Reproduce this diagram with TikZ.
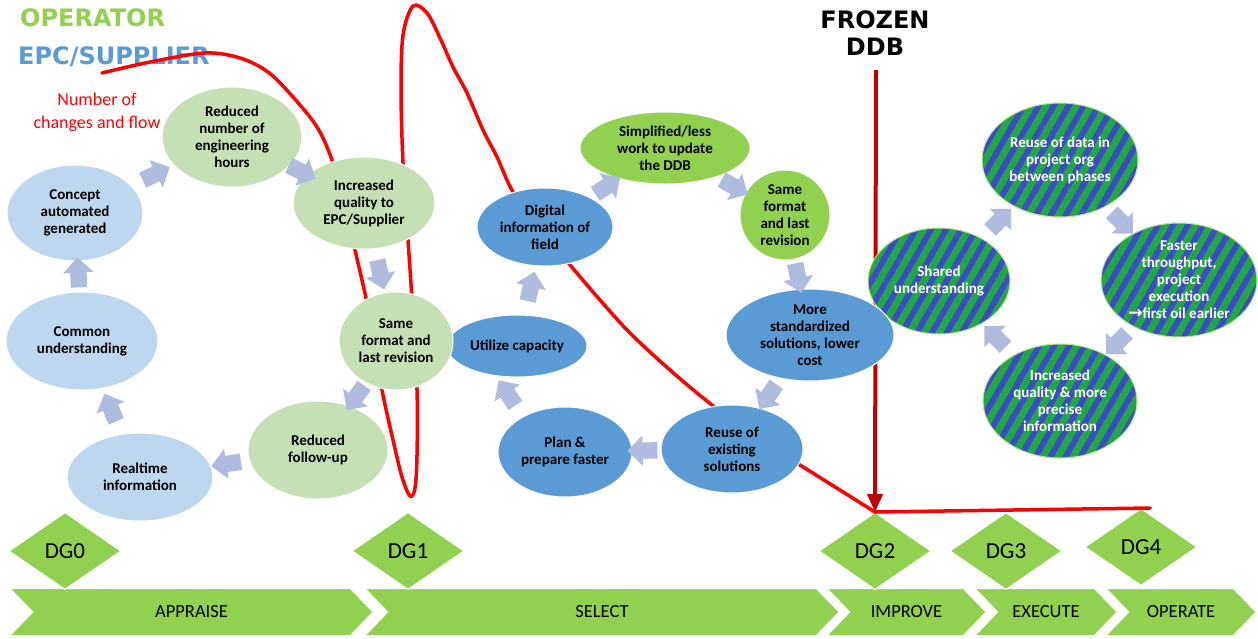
\documentclass[tikz,border=0pt]{standalone}
\usepackage{fontspec}
\setmainfont{Carlito}
\newfontfamily\headfont{DejaVu Sans}
\newfontfamily\symfont{DejaVu Sans}
\usetikzlibrary{shapes.geometric,shapes.arrows,shapes.symbols,arrows.meta}

\definecolor{paleblue}{HTML}{BDD7EE}
\definecolor{palegreen}{HTML}{C5E0B4}
\definecolor{leafgreen}{HTML}{92D050}
\definecolor{midblue}{HTML}{5B9BD5}
\definecolor{flowblue}{HTML}{AFBBDF}
\definecolor{stripegreen}{HTML}{22A745}
\definecolor{stripeblue}{HTML}{3E4BC8}
\definecolor{changered}{HTML}{FF0000}
\definecolor{frozenred}{HTML}{C00000}

\tikzset{
  bubble/.style={ellipse, draw=white, line width=1pt, inner sep=0pt, align=center,
    font=\bfseries\fontsize{15}{17}\selectfont},
  striped/.style={bubble, draw=leafgreen!60, text=white, path picture={
      \fill[stripeblue] (path picture bounding box.south west) rectangle (path picture bounding box.north east);
      \foreach \k in {-14,...,14}
        \draw[stripegreen, line width=7pt] ([xshift=\k*15pt]path picture bounding box.center) ++(-50,87) -- ++(100,-174);
    }},
  flowarrow/.style={single arrow, fill=flowblue, inner xsep=0pt, inner ysep=8pt,
    single arrow head extend=7pt, minimum height=30pt, sloped, allow upside down},
  gate/.style={diamond, fill=leafgreen, draw=white, line width=1pt, inner sep=0pt,
    minimum width=112pt, minimum height=77pt, font=\fontsize{23}{26}\selectfont},
  phase/.style={signal, signal from=west, signal to=east, signal pointer angle=92,
    fill=leafgreen, draw=white, line width=1pt, inner sep=0pt, minimum height=47pt,
    font=\fontsize{18.5}{20}\selectfont},
  changes/.style={changered, line width=3.5pt, line join=round, line cap=round},
  heading/.style={font=\headfont\bfseries\fontsize{24}{27}\selectfont, inner sep=0pt}
}

\begin{document}
\begin{tikzpicture}[x=1pt, y=-1pt]
  \fill[white] (0,0) rectangle (1258,638);
  \useasboundingbox (0,0) rectangle (1258,638);

  % headings
  \node[heading, text=leafgreen, anchor=base west] (operator) at (20,26) {OPERATOR};
  \node[heading, text=midblue, anchor=base west] (epc) at (18,64) {EPC/SUPPLIER};
  \node[heading, align=center] (frozen) at (875,33) {FROZEN\\DDB};
  \node[font=\fontsize{18}{23}\selectfont, text=changered, align=center, inner sep=0pt] (changelabel) at (97,112) {Number of\\changes and flow};

  % phases and decision gates
  \node[phase, minimum width=363pt] (appraise) at (191.5,612) {APPRAISE};
  \node[phase, minimum width=474pt] (select) at (602,612) {SELECT};
  \node[phase, minimum width=159pt] (improve) at (906.5,612) {IMPROVE};
  \node[phase, minimum width=142pt] (execute) at (1046,612) {EXECUTE};
  \node[phase, minimum width=150pt] (operate) at (1181,612) {OPERATE};
  \node[gate] (dg0) at (65,551) {DG0};
  \node[gate] (dg1) at (408,551) {DG1};
  \node[gate] (dg2) at (875,551) {DG2};
  \node[gate] (dg3) at (1006,551) {DG3};
  \node[gate] (dg4) at (1141,547) {DG4};

  % frozen ddb and number of changes
  \coordinate (freeze) at (876,70);
  \coordinate (flatend) at (1150,508);
  \draw[frozenred, line width=4pt, -{Triangle[width=15pt,length=18pt]}] (freeze) -- (dg2.north);
  \draw[changes] plot[smooth, tension=0.55] coordinates {
      (102,73) (150,62) (205,53) (240,58) (268,72) (293,97) (317,127) (332,160)
      (345,205) (355,250) (366,298) (375,345) (382,390) (393,440) (402,477) (410,496)
      (415,488) (417,455) (417,390) (412,300) (408,240) (403,163) (401,90) (403,35)
      (413,6) (427,13) (440,38) (453,67) (467,93) (483,130) (497,157) (513,192)
      (540,230) (570,265) (600,300) (630,333) (670,370) (712,405) (760,440) (800,465)}
    -- (dg2.north) -- (flatend);

  % operator cycle
  \node[bubble, fill=paleblue, minimum width=136pt, minimum height=96pt] (concept) at (75,213) {Concept\\automated\\generated};
  \node[bubble, fill=palegreen, minimum width=140pt, minimum height=100pt] (hours) at (232,137) {Reduced\\number of\\engineering\\hours};
  \node[bubble, fill=palegreen, minimum width=142pt, minimum height=92pt] (quality) at (364,203) {Increased\\quality to\\EPC/Supplier};
  \node[bubble, fill=midblue, minimum width=140pt, minimum height=62pt] (utilize) at (517,346) {Utilize capacity};
  \node[bubble, fill=palegreen, minimum width=114pt, minimum height=98pt] (sameformat) at (396,341) {Same\\format and\\last revision};
  \node[bubble, fill=palegreen, minimum width=140pt, minimum height=98pt] (followup) at (318,450) {Reduced\\follow-up};
  \node[bubble, fill=paleblue, minimum width=146pt, minimum height=88pt] (realtime) at (140,477) {Realtime\\information};
  \node[bubble, fill=paleblue, minimum width=152pt, minimum height=98pt] (common) at (82,341) {Common\\understanding};

  % shared cycle
  \node[striped, minimum width=156pt, minimum height=114pt] (reusedata) at (1060,160) {Reuse of data in\\project org\\between phases};
  \node[striped, minimum width=156pt, minimum height=114pt] (faster) at (1179,280) {Faster\\throughput,\\project\\execution\\{\symfont\bfseries\fontsize{17}{17}\selectfont →}first oil earlier};
  \node[striped, minimum width=154pt, minimum height=114pt] (incquality) at (1060,401) {Increased\\quality \& more\\precise\\information};
  \node[striped, minimum width=142pt, minimum height=106pt] (shared) at (939,281) {Shared\\understanding};

  % supplier cycle
  \node[bubble, fill=midblue, minimum width=136pt, minimum height=78pt] (digital) at (545,227) {Digital\\information of\\field};
  \node[bubble, fill=leafgreen, minimum width=170pt, minimum height=72pt] (simplified) at (665,148) {Simplified/less\\work to update\\the DDB};
  \node[bubble, fill=leafgreen, minimum width=90pt, minimum height=90pt] (samerev) at (785,215) {Same\\format\\and last\\revision};
  \node[bubble, fill=midblue, minimum width=168pt, minimum height=92pt] (standard) at (810,335) {More\\standardized\\solutions, lower\\cost};
  \node[bubble, fill=midblue, minimum width=142pt, minimum height=88pt] (reuse) at (732,449) {Reuse of\\existing\\solutions};
  \node[bubble, fill=midblue, minimum width=134pt, minimum height=90pt] (plan) at (565,452) {Plan \&\\prepare faster};

  % flow arrows
  \path (common) -- (concept) node[flowarrow, midway] {};
  \path (concept) -- (hours) node[flowarrow, midway] {};
  \path (hours) -- (quality) node[flowarrow, midway] {};
  \path (quality) -- (sameformat) node[flowarrow, midway] {};
  \path (sameformat) -- (followup) node[flowarrow, midway] {};
  \path (followup) -- (realtime) node[flowarrow, midway] {};
  \path (realtime) -- (common) node[flowarrow, midway] {};
  \path (reuse) -- (plan) node[flowarrow, midway] {};
  \path (plan.140) -- (utilize.235) node[flowarrow, midway] {};
  \path (utilize) -- (digital) node[flowarrow, midway] {};
  \path (digital) -- (simplified) node[flowarrow, midway] {};
  \path (simplified) -- (samerev) node[flowarrow, midway] {};
  \path (samerev) -- (standard) node[flowarrow, midway] {};
  \path (standard) -- (reuse) node[flowarrow, midway] {};
  \path (shared) -- (reusedata) node[flowarrow, midway] {};
  \path (reusedata) -- (faster) node[flowarrow, midway] {};
  \path (faster) -- (incquality) node[flowarrow, midway] {};
  \path (incquality) -- (shared) node[flowarrow, midway] {};
\end{tikzpicture}
\end{document}
